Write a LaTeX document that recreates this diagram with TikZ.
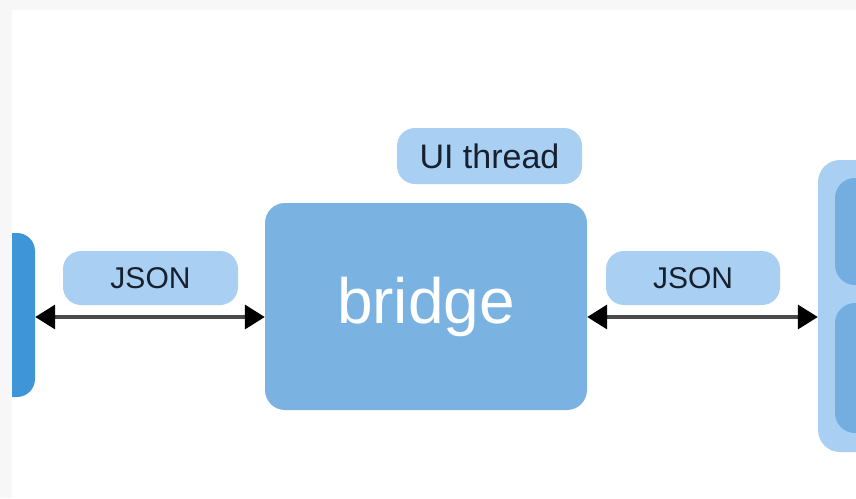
\documentclass[tikz,border=0pt]{standalone}
\usepackage{fontspec}
\setmainfont{Liberation Sans}
\usetikzlibrary{arrows.meta}
\definecolor{edgegray}{HTML}{F7F7F7}
\definecolor{deepblue}{HTML}{3E96D8}
\definecolor{midblue}{HTML}{7AB3E2}
\definecolor{paleblue}{HTML}{A9D0F2}
\definecolor{innerblue}{HTML}{74ADDF}
\definecolor{labelink}{HTML}{16202E}
\definecolor{linkgray}{HTML}{4A4A4A}
\tikzset{
  tag/.style={fill=paleblue, rounded corners=18pt, inner sep=0pt,
    text=labelink, font=\fontsize{30}{30}\selectfont},
  block/.style={rounded corners=#1, inner sep=0pt},
  link/.style={draw=linkgray, line width=3.6pt,
    >={Triangle[length=20pt,width=24pt,fill=black,color=black]}, <->}
}
\begin{document}
\begin{tikzpicture}[x=1pt,y=-1pt]
  % canvas with its light grey margin strips
  \useasboundingbox (0,0) rectangle (856,498);
  \fill[white] (0,0) rectangle (856,498);

  \begin{scope}
    \clip (12,10) rectangle (856,498);
    % left neighbour block
    \node[block=18pt, fill=deepblue, minimum width=55pt, minimum height=164pt]
      (leftblk) at (7.5,315) {};
    % right neighbour block with two inner panels
    \node[block=22pt, fill=paleblue, minimum width=72pt, minimum height=292pt]
      (rightblk) at (854,306) {};
    \node[block=20pt, fill=innerblue, minimum width=60pt, minimum height=107pt]
      (rightup) at (865,231.5) {};
    \node[block=20pt, fill=innerblue, minimum width=60pt, minimum height=130pt]
      (rightdown) at (865,368) {};
  \end{scope}

  % central bridge
  \node[block=20pt, fill=midblue, minimum width=322pt, minimum height=207pt,
    text=white, font=\fontsize{64}{64}\selectfont] (bridge) at (426,306.5) {bridge};

  % labels
  \node[tag, minimum width=185pt, minimum height=56pt,
    font=\fontsize{34}{34}\selectfont] (ui) at (489.5,156) {UI thread};
  \node[tag, minimum width=175pt, minimum height=54pt] (jsonl) at (150.5,278) {JSON};
  \node[tag, minimum width=174pt, minimum height=54pt] (jsonr) at (693,278) {JSON};

  % message links
  \coordinate (lane) at (0,317);
  \draw[link] (leftblk.east |- lane) -- (bridge.west |- lane);
  \draw[link] (bridge.east |- lane) -- (rightblk.west |- lane);

  % margin strips
  \fill[edgegray] (0,0) rectangle (856,10);
  \fill[edgegray] (0,0) rectangle (12,498);
\end{tikzpicture}
\end{document}
